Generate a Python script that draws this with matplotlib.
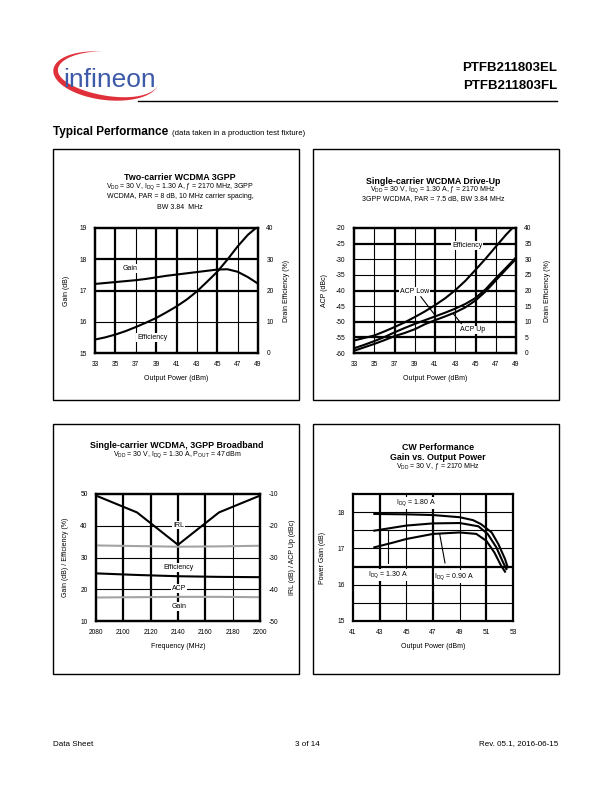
import numpy as np
import matplotlib.pyplot as plt
from matplotlib.patches import Rectangle, Polygon

plt.rcParams['font.family'] = ['Liberation Sans', 'DejaVu Sans']
plt.rcParams['axes.unicode_minus'] = False

# Two-carrier WCDMA 3GPP
tc_pout = [33, 34, 35, 36, 37, 38, 39, 40, 41, 42, 43, 44, 45, 46, 47, 48, 48.9]
tc_gain = [17.21, 17.24, 17.27, 17.30, 17.33, 17.37, 17.42, 17.47, 17.51, 17.55,
           17.59, 17.63, 17.67, 17.68, 17.60, 17.43, 17.24]
tc_eff_pout = [33, 34, 35, 36, 37, 38, 39, 40, 41, 42, 43, 44, 45, 46, 47, 48, 48.8]
tc_eff = [4.3, 5.0, 5.9, 7.0, 8.3, 9.7, 11.2, 13.0, 14.9, 17.1, 19.7, 22.8, 26.0,
          29.9, 34.1, 37.8, 40.0]

# Single-carrier WCDMA drive-up
du_pout = [33, 34, 35, 36, 37, 38, 39, 40, 41, 42, 43, 44, 45, 46, 47, 48, 49]
du_acp_low = [-58.5, -57.4, -56.2, -54.9, -53.4, -52.0, -50.7, -49.5, -48.3, -47.1,
              -45.8, -44.3, -42.4, -39.6, -36.1, -32.8, -29.4]
du_acp_up = [-59.3, -58.2, -57.1, -55.9, -54.6, -53.6, -52.4, -50.8, -49.5, -48.3,
             -47.0, -45.4, -43.2, -40.3, -36.8, -33.3, -29.9]
du_eff_pout = [33, 34, 35, 36, 37, 38, 39, 40, 41, 42, 43, 44, 45, 46, 47, 48, 48.65]
du_eff = [4.0, 4.8, 5.6, 6.9, 8.3, 9.8, 11.5, 13.3, 15.3, 17.5, 20.1, 23.1, 26.6,
          30.2, 34.0, 37.8, 40.0]

# Broadband
bb_freq = [2080, 2110, 2140, 2170, 2200]
bb_irl = [-10.5, -15.8, -26.0, -15.8, -10.5]
bb_eff = [33.8, 33.6, 33.4, 33.5, 33.7]
bb_acp = [-35.0, -35.5, -35.9, -36.1, -36.2]
bb_gain = [17.4, 17.5, 17.6, 17.6, 17.5]

# CW gain vs output power
cw_pout_180 = [42.6, 45, 47, 49, 50, 50.6, 51.4, 51.9, 52.4, 52.6]
cw_gain_180 = [17.95, 17.94, 17.92, 17.86, 17.78, 17.67, 17.44, 17.12, 16.71, 16.48]
cw_pout_130 = [42.6, 45, 47, 49, 50.4, 51.1, 51.75, 52.25, 52.5]
cw_gain_130 = [17.49, 17.63, 17.69, 17.70, 17.61, 17.40, 17.03, 16.62, 16.43]
cw_pout_090 = [42.6, 44, 45, 47, 49, 50.25, 51.0, 51.6, 52.1, 52.4]
cw_gain_090 = [17.03, 17.16, 17.26, 17.40, 17.44, 17.40, 17.21, 16.89, 16.53, 16.36]

GRAY = '#a3a3a3'
TICK = 4.8
LAB = 5.0
TXT = 5.0

fig = plt.figure(figsize=(6.12, 7.92), dpi=100)
bg = fig.add_axes([0, 0, 1, 1], zorder=0)
bg.set_xlim(0, 612)
bg.set_ylim(792, 0)
bg.axis('off')


def place(l, t, r, b):
    return fig.add_axes([l / 612, 1 - b / 792, (r - l) / 612, (b - t) / 792], zorder=2)


def grid(ax, vthick, vthin, hthick, hthin):
    for v in vthick:
        ax.axvline(v, color='k', lw=1.6, zorder=1)
    for v in vthin:
        ax.axvline(v, color='k', lw=0.8, zorder=1)
    for h in hthick:
        ax.axhline(h, color='k', lw=1.6, zorder=1)
    for h in hthin:
        ax.axhline(h, color='k', lw=0.8, zorder=1)


def style(ax):
    for s in ax.spines.values():
        s.set_linewidth(1.6)
    ax.tick_params(length=0, labelsize=TICK, pad=6)


def label(ax, x, y, s):
    ax.text(x, y, s, fontsize=TXT, ha='center', va='center', zorder=6,
            bbox=dict(facecolor='white', edgecolor='none', pad=0.6))


# ---- page header ----
t = np.linspace(np.radians(97), np.radians(352), 150)
frac = (t - t[0]) / (t[-1] - t[0])
w = 5.5 * np.sin(np.pi * frac) ** 1.2
rot = np.radians(-7)


def ell(ra, rb):
    x = ra * np.cos(t)
    y = rb * np.sin(t)
    return 106 + x * np.cos(rot) - y * np.sin(rot), 76 - (x * np.sin(rot) + y * np.cos(rot))


xo, yo = ell(53, 24)
xi, yi = ell(53 - w, 24 - w)
bg.add_patch(Polygon(np.column_stack([np.r_[xo, xi[::-1]], np.r_[yo, yi[::-1]]]),
                     closed=True, facecolor='#e0303a', edgecolor='none'))
bg.text(63, 87, 'infineon', fontsize=19, color='#3d5aa9', ha='left', va='baseline',
        family=['Liberation Sans Narrow', 'Liberation Sans'])

bg.text(557, 68, 'PTFB211803EL', fontsize=9.5, weight='bold', ha='right', va='center')
bg.text(557, 86, 'PTFB211803FL', fontsize=9.5, weight='bold', ha='right', va='center')
bg.plot([138, 557], [101, 101], color='k', lw=1.0)

bg.text(53, 135, 'Typical Performance', fontsize=8.5, weight='bold', ha='left', va='baseline')
bg.text(172, 135, '(data taken in a production test fixture)', fontsize=5.6,
        ha='left', va='baseline')

for (l, tp, r, b) in [(53, 149, 299, 400), (313, 149, 559, 400),
                      (53, 424, 299, 674), (313, 424, 559, 674)]:
    bg.add_patch(Rectangle((l, tp), r - l, b - tp, fill=False, edgecolor='k', lw=1.0))

bg.text(53, 744, 'Data Sheet', fontsize=5.8, ha='left', va='center')
bg.text(307, 744, '3 of 14', fontsize=5.8, ha='center', va='center')
bg.text(558, 744, 'Rev. 05.1, 2016-06-15', fontsize=5.8, ha='right', va='center')

VDD = r'$\mathregular{V_{DD}}$'
IDQ = r'$\mathregular{I_{DQ}}$'

# ---- panel 1 ----
bg.text(180, 177, 'Two-carrier WCDMA 3GPP', fontsize=6.4, weight='bold', ha='center', va='center')
bg.text(180, 187, VDD + ' = 30 V, ' + IDQ + ' = 1.30 A, ƒ = 2170 MHz, 3GPP',
        fontsize=5.0, ha='center', va='center')
bg.text(180, 197, 'WCDMA, PAR = 8 dB, 10 MHz carrier spacing,', fontsize=5.0, ha='center', va='center')
bg.text(180, 207.5, 'BW 3.84  MHz', fontsize=5.0, ha='center', va='center')

ax1 = place(95, 228, 258, 353)
ax1.set_xlim(33, 49)
ax1.set_ylim(15, 19)
ax1.set_xticks(range(33, 50, 2))
ax1.set_yticks(range(15, 20))
grid(ax1, [35, 39, 41, 45], [37, 43, 47], [17, 18], [16])
ax1.plot(tc_pout, tc_gain, color='k', lw=1.5, zorder=3)
ax1.set_xlabel('Output Power (dBm)', fontsize=LAB, labelpad=5)
ax1.set_ylabel('Gain (dB)', fontsize=LAB, labelpad=7)
style(ax1)
ax1b = ax1.twinx()
ax1b.set_ylim(0, 40)
ax1b.set_yticks(range(0, 41, 10))
ax1b.plot(tc_eff_pout, tc_eff, color='k', lw=1.5, zorder=3)
ax1b.set_ylabel('Drain Efficiency (%)', fontsize=LAB, labelpad=7)
style(ax1b)
label(ax1b, 36.4, 27.0, 'Gain')
label(ax1b, 38.6, 4.9, 'Efficiency')

# ---- panel 2 ----
bg.text(433, 181, 'Single-carrier WCDMA Drive-Up', fontsize=6.4, weight='bold', ha='center', va='center')
bg.text(433, 190, VDD + ' = 30 V, ' + IDQ + ' = 1.30 A, ƒ = 2170 MHz',
        fontsize=5.0, ha='center', va='center')
bg.text(433, 199, '3GPP WCDMA, PAR = 7.5 dB, BW 3.84 MHz', fontsize=5.0, ha='center', va='center')

ax2 = place(354, 228, 516, 353)
ax2.set_xlim(33, 49)
ax2.set_ylim(-60, -20)
ax2.set_xticks(range(33, 50, 2))
ax2.set_yticks(range(-60, -19, 5))
grid(ax2, [37, 41, 45], [35, 39, 43, 47], [-25, -40, -50, -55], [-30, -35, -45])
ax2.plot(du_pout, du_acp_low, color='k', lw=1.5, zorder=3)
ax2.plot(du_pout, du_acp_up, color='k', lw=1.5, zorder=3)
ax2.set_xlabel('Output Power (dBm)', fontsize=LAB, labelpad=5)
ax2.set_ylabel('ACP (dBc)', fontsize=LAB, labelpad=6)
style(ax2)
ax2b = ax2.twinx()
ax2b.set_ylim(0, 40)
ax2b.set_yticks(range(0, 41, 5))
ax2b.plot(du_eff_pout, du_eff, color='k', lw=1.5, zorder=3)
ax2b.set_ylabel('Drain Efficiency (%)', fontsize=LAB, labelpad=9)
style(ax2b)
label(ax2b, 44.2, 34.4, 'Efficiency')
label(ax2b, 39.0, 19.7, 'ACP Low')
label(ax2b, 44.7, 7.4, 'ACP Up')
ax2b.plot([39.6, 41.0], [18.0, 12.1], color='k', lw=0.8, zorder=5)
ax2b.plot([43.6, 42.8], [9.4, 12.6], color='k', lw=0.8, zorder=5)

# ---- panel 3 ----
bg.text(177, 445, 'Single-carrier WCDMA, 3GPP Broadband', fontsize=6.4, weight='bold',
        ha='center', va='center')
bg.text(177, 455, VDD + ' = 30 V, ' + IDQ + ' = 1.30 A, ' + r'$\mathregular{P_{OUT}}$' + ' = 47 dBm',
        fontsize=5.0, ha='center', va='center')

ax3 = place(96, 494, 260, 621)
ax3.set_xlim(2080, 2200)
ax3.set_ylim(10, 50)
ax3.set_xticks(range(2080, 2201, 20))
ax3.set_yticks(range(10, 51, 10))
grid(ax3, [2100, 2120, 2140, 2160], [2180], [], [20, 30, 40])
ax3.plot(bb_freq, bb_eff, color=GRAY, lw=1.5, zorder=3)
ax3.plot(bb_freq, bb_gain, color=GRAY, lw=1.5, zorder=3)
ax3.set_xlabel('Frequency (MHz)', fontsize=LAB, labelpad=5)
ax3.set_ylabel('Gain (dB) / Efficiency (%)', fontsize=LAB, labelpad=8)
style(ax3)
ax3b = ax3.twinx()
ax3b.set_ylim(-50, -10)
ax3b.set_yticks(range(-50, -9, 10))
ax3b.plot(bb_freq, bb_irl, color='k', lw=1.5, zorder=3)
ax3b.plot(bb_freq, bb_acp, color='k', lw=1.5, zorder=3)
ax3b.set_ylabel('IRL (dB) / ACP Up (dBc)', fontsize=LAB, labelpad=8)
style(ax3b)
label(ax3b, 2140.5, -19.8, 'IRL')
label(ax3b, 2140.5, -33.1, 'Efficiency')
label(ax3b, 2140.5, -39.7, 'ACP')
label(ax3b, 2140.5, -45.5, 'Gain')

# ---- panel 4 ----
bg.text(438, 447, 'CW Performance', fontsize=6.4, weight='bold', ha='center', va='center')
bg.text(438, 457, 'Gain vs. Output Power', fontsize=6.4, weight='bold', ha='center', va='center')
bg.text(438, 467, VDD + ' = 30 V, ƒ = 2170 MHz', fontsize=5.0, ha='center', va='center')

ax4 = place(353, 494, 513, 621)
ax4.set_xlim(41, 53)
ax4.set_ylim(15, 18.5)
ax4.set_xticks(range(41, 54, 2))
ax4.set_yticks(range(15, 19))
grid(ax4, [43, 47, 51], [45, 49], [16.5], [15.5, 16, 17, 17.5, 18])
ax4.plot(cw_pout_180, cw_gain_180, color='k', lw=1.5, zorder=3)
ax4.plot(cw_pout_130, cw_gain_130, color='k', lw=1.5, zorder=3)
ax4.plot(cw_pout_090, cw_gain_090, color='k', lw=1.5, zorder=3)
ax4.plot([43.6, 43.6], [17.49, 16.6], color='k', lw=0.8, zorder=3)
ax4.plot([47.5, 47.9], [17.40, 16.6], color='k', lw=0.8, zorder=3)
label(ax4, 45.75, 18.25, IDQ + ' = 1.80 A')
label(ax4, 43.6, 16.27, IDQ + ' = 1.30 A')
label(ax4, 48.6, 16.23, IDQ + ' = 0.90 A')
ax4.set_xlabel('Output Power (dBm)', fontsize=LAB, labelpad=5)
ax4.set_ylabel('Power Gain (dB)', fontsize=LAB, labelpad=8)
style(ax4)

fig.savefig('out.png', dpi=100)
